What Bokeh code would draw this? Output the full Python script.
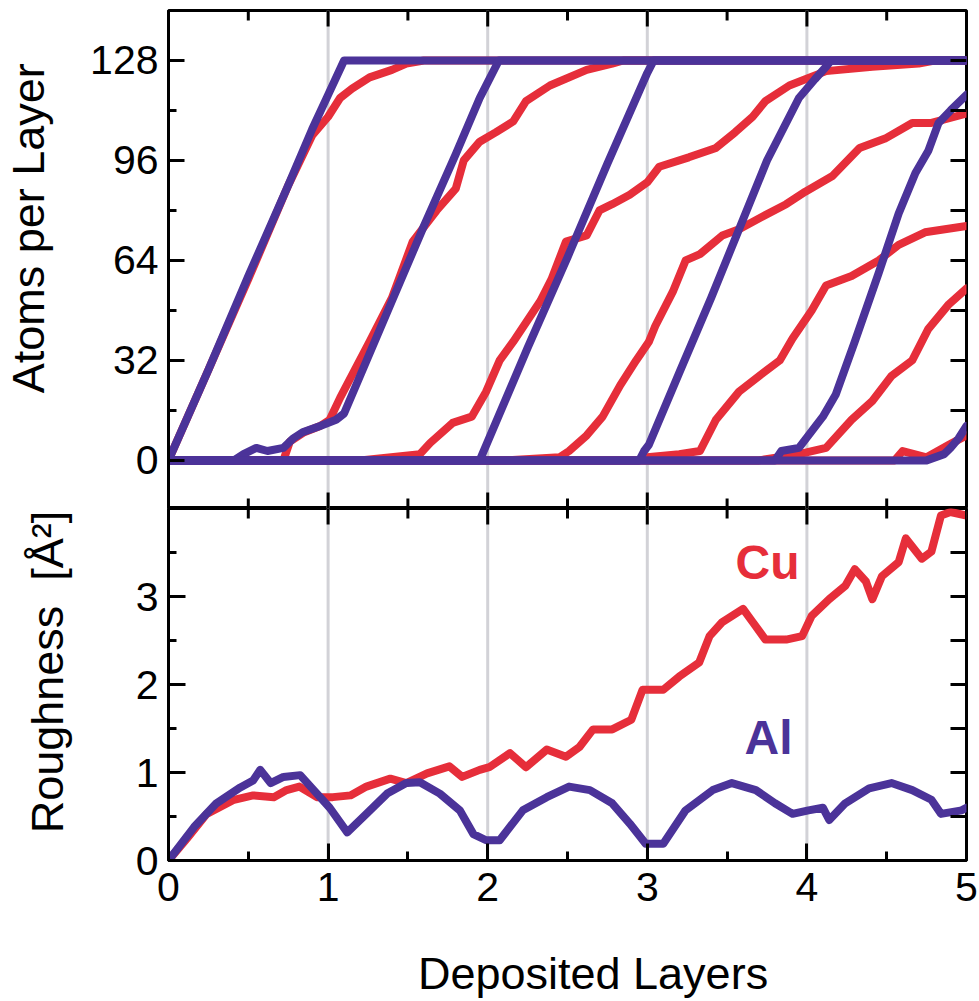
from bokeh.plotting import figure
from bokeh.layouts import column
from bokeh.models import LinearAxis, FixedTicker, Span
from bokeh.core.properties import value
from bokeh.embed import file_html
from bokeh.resources import INLINE

RED = "#e62e3a"
PURPLE = "#4b3399"
GRAY = "#d2d2d7"
FONT = "Liberation Sans"

# ---------------- data: top panel (atoms per layer) ----------------
cu_l1_x = [0, 0.25, 0.5, 0.75, 0.9, 1.0, 1.075, 1.15, 1.26, 1.4, 1.49, 1.6, 5.0]
cu_l1_y = [0, 29, 58, 88, 104, 110, 116, 119, 122.6, 125, 127, 128, 128]
cu_l2_x = [0, 0.72, 0.76, 0.85, 0.95, 1.01, 1.075, 1.26, 1.4, 1.53, 1.68, 1.8, 1.85, 1.95, 2.05, 2.16, 2.24, 2.39, 2.62, 2.78, 2.85, 5.0]
cu_l2_y = [0, 0, 6, 9, 11, 13, 20, 38, 52, 70, 80, 87, 96, 102, 105, 108.5, 115, 120, 125, 127, 128, 128]
cu_l3_x = [0, 1.2, 1.575, 1.64, 1.78, 1.9, 1.99, 2.075, 2.16, 2.33, 2.4, 2.49, 2.62, 2.7, 2.78, 2.89, 3.0, 3.075, 3.26, 3.43, 3.55, 3.66, 3.74, 3.89, 3.99, 4.12, 4.41, 4.7, 4.8, 5.0]
cu_l3_y = [0, 0, 2, 5.6, 12, 14, 22, 32, 38, 51, 58, 70, 72, 80, 82, 85, 89, 94, 97, 100, 105, 110, 115, 120, 122, 124.6, 126, 127, 128, 128]
cu_l4_x = [0, 2.1, 2.45, 2.51, 2.62, 2.72, 2.83, 2.93, 3.01, 3.05, 3.16, 3.24, 3.33, 3.47, 3.575, 3.72, 3.87, 3.99, 4.16, 4.33, 4.49, 4.66, 4.78, 5.0]
cu_l4_y = [0, 0, 1, 3, 8, 14, 24, 32, 38, 43, 54, 64, 66, 72, 74, 78, 82, 86, 91, 100, 103, 108, 108, 111]
cu_l5_x = [0, 2.95, 3.0, 3.2, 3.33, 3.43, 3.575, 3.7, 3.83, 3.91, 4.03, 4.12, 4.28, 4.45, 4.575, 4.74, 5.0]
cu_l5_y = [0, 0, 1, 2, 3, 13, 22, 27, 32, 39, 48, 56, 59, 64, 69, 73, 75]
cu_l6_x = [0, 3.7, 3.95, 4.12, 4.28, 4.41, 4.53, 4.66, 4.76, 4.89, 5.0]
cu_l6_y = [0, 0, 2, 4, 13, 19, 27, 32, 42, 50, 55]
cu_l7_x = [0, 4.55, 4.6, 4.75, 4.89, 5.0]
cu_l7_y = [0, 0, 3, 1, 5, 8]

al_l1_x = [0, 0.25, 0.5, 0.75, 0.9, 1.0, 1.1, 5.0]
al_l1_y = [0, 29, 59, 88, 106, 117, 128, 128]
al_l2_x = [0, 0.41, 0.47, 0.55, 0.62, 0.72, 0.78, 0.84, 0.95, 1.05, 1.1, 1.2, 1.4, 1.6, 1.8, 1.95, 2.0, 2.07, 5.0]
al_l2_y = [0, 0, 2, 4, 3, 4, 7, 9, 11, 13, 15, 27, 51, 75, 98, 116, 121, 128, 128]
al_l3_x = [0, 1.95, 2.0, 2.25, 2.5, 2.75, 3.0, 3.04, 5.0]
al_l3_y = [0, 0, 6, 36, 65, 95, 124, 128, 128]
al_l4_x = [0, 2.95, 2.98, 3.01, 3.2, 3.4, 3.575, 3.75, 3.85, 3.95, 4.05, 4.12, 4.15, 5.0]
al_l4_y = [0, 0, 3, 5, 28, 52, 74, 96, 106, 116, 122, 126, 128, 128]
al_l5_x = [0, 3.8, 3.84, 3.95, 4.1, 4.18, 4.3, 4.45, 4.575, 4.68, 4.76, 4.825, 4.9, 5.0]
al_l5_y = [0, 0, 3, 4, 14, 21, 38, 60, 79, 92, 99, 108, 112, 117]
al_l6_x = [0, 4.75, 4.86, 4.9, 4.95, 5.0]
al_l6_y = [0, 0, 2, 4, 7, 11]

# ---------------- data: bottom panel (roughness) ----------------
cu_r_x = [0, 0.12, 0.24, 0.41, 0.53, 0.66, 0.74, 0.82, 0.93, 1.03, 1.14, 1.24, 1.39, 1.49, 1.62, 1.76, 1.84, 1.95,
          2.01, 2.14, 2.24, 2.37, 2.49, 2.575, 2.66, 2.78, 2.9, 2.97, 3.1, 3.2, 3.325, 3.39, 3.47, 3.6, 3.66, 3.74,
          3.87, 3.97, 4.03, 4.14, 4.24, 4.3, 4.37, 4.41, 4.47, 4.575, 4.62, 4.72, 4.78, 4.84, 4.9, 5.0]
cu_r_y = [0, 0.26, 0.53, 0.69, 0.74, 0.72, 0.8, 0.84, 0.72, 0.72, 0.74, 0.84, 0.93, 0.88, 0.99, 1.07, 0.95, 1.03,
          1.06, 1.22, 1.06, 1.26, 1.18, 1.29, 1.49, 1.49, 1.6, 1.94, 1.94, 2.09, 2.25, 2.55, 2.71, 2.86, 2.71, 2.51,
          2.51, 2.55, 2.78, 2.97, 3.12, 3.31, 3.17, 2.97, 3.23, 3.39, 3.66, 3.43, 3.51, 3.92, 3.96, 3.92]
al_r_x = [0, 0.16, 0.3, 0.45, 0.53, 0.575, 0.64, 0.72, 0.825, 0.91, 1.01, 1.12, 1.24, 1.37, 1.49, 1.575, 1.7, 1.825,
          1.91, 1.99, 2.075, 2.22, 2.37, 2.51, 2.64, 2.78, 2.89, 2.99, 3.1, 3.24, 3.41, 3.53, 3.68, 3.8, 3.91, 4.01,
          4.1, 4.14, 4.24, 4.39, 4.53, 4.66, 4.78, 4.84, 4.97, 5.0]
al_r_y = [0, 0.38, 0.65, 0.83, 0.91, 1.03, 0.88, 0.95, 0.97, 0.8, 0.6, 0.32, 0.53, 0.76, 0.88, 0.89, 0.76, 0.57,
          0.3, 0.23, 0.23, 0.57, 0.72, 0.84, 0.8, 0.65, 0.42, 0.19, 0.19, 0.57, 0.8, 0.88, 0.8, 0.65, 0.53, 0.57,
          0.6, 0.46, 0.65, 0.82, 0.88, 0.8, 0.69, 0.53, 0.57, 0.6]

# ticks / labels
x_major = [0, 1, 2, 3, 4, 5]
x_minor = [0.5, 1.5, 2.5, 3.5, 4.5]
top_y_major = [0, 32, 64, 96, 128]
top_y_minor = [16, 48, 80, 112]
top_y_right = [16, 32, 48, 64, 80, 96, 112, 128]
bot_y_major = [0, 1, 2, 3]
bot_y_minor = [0.5, 1.5, 2.5, 3.5]
bot_y_right = [0.5, 1, 1.5, 2, 2.5, 3, 3.5]
grid_x = [1, 2, 3, 4]

X_RANGE = (0, 5)
TOP_Y_RANGE = (-15.4, 144)
BOT_Y_RANGE = (0, 4)

NB = "\u00a0"
X_LABEL = "Deposited Layers"
TOP_Y_LABEL = NB * 5 + "Atoms per Layer"
BOT_Y_LABEL = NB * 2 + "Roughness" + NB + NB + "[Å²]"

# layout (pixels)
W = 978
LEFT, RIGHT = 168, 12
FRAME_W = W - LEFT - RIGHT
TOP_H, TOP_MT = 508, 10
BOT_FRAME_H, BOT_MB = 352, 66
BOT_H = BOT_FRAME_H + BOT_MB
LAB_H = 1000 - TOP_H - BOT_H


def style_axis(ax, ticks, minor, tick_in, minor_in, standoff):
    ax.ticker = FixedTicker(ticks=ticks, minor_ticks=minor)
    ax.axis_line_color = "black"
    ax.axis_line_width = 3
    ax.major_tick_line_color = "black"
    ax.major_tick_line_width = 3
    ax.minor_tick_line_color = "black"
    ax.minor_tick_line_width = 3
    ax.major_tick_in = tick_in
    ax.major_tick_out = 0
    ax.minor_tick_in = minor_in
    ax.minor_tick_out = 0
    ax.major_label_text_font = FONT
    ax.major_label_text_font_size = "41px"
    ax.major_label_text_color = "black"
    ax.major_label_standoff = standoff
    ax.axis_label_text_font = FONT
    ax.axis_label_text_font_size = "45px"
    ax.axis_label_text_font_style = "normal"
    ax.axis_label_text_color = "black"


def base_fig(height, y_range, mb_top, mb_bottom):
    p = figure(width=W, height=height, x_range=X_RANGE, y_range=y_range,
               output_backend="svg", toolbar_location=None,
               x_axis_location=None, y_axis_location=None,
               min_border_left=LEFT, min_border_right=RIGHT,
               min_border_top=mb_top, min_border_bottom=mb_bottom)
    p.grid.visible = False
    p.outline_line_color = "black"
    p.outline_line_width = 3
    p.background_fill_color = "white"
    p.border_fill_color = "white"
    for gx in grid_x:
        p.add_layout(Span(location=gx, dimension="height", line_color=GRAY,
                          line_width=3, level="underlay"))
    return p


def ticks_on_hedge(p, ticks, y_edge, length_px, y_per_px):
    # inward ticks on a horizontal frame edge (top: negative direction, bottom: positive)
    n = len(ticks)
    p.segment(x0=ticks, y0=[y_edge] * n, x1=ticks, y1=[y_edge + length_px * y_per_px] * n,
              line_color="black", line_width=3)


def ticks_on_vedge(p, ticks, x_edge, length_px, x_per_px):
    n = len(ticks)
    p.segment(x0=[x_edge] * n, y0=ticks, x1=[x_edge + length_px * x_per_px] * n, y1=ticks,
              line_color="black", line_width=3)


LW = 8
x_per_px = (X_RANGE[1] - X_RANGE[0]) / FRAME_W

# ---------------- top panel ----------------
p1 = base_fig(TOP_H, TOP_Y_RANGE, TOP_MT, 0)
top_y_per_px = (TOP_Y_RANGE[1] - TOP_Y_RANGE[0]) / (TOP_H - TOP_MT)

ax = LinearAxis(axis_label=TOP_Y_LABEL)
style_axis(ax, top_y_major, top_y_minor, 16, 8, 10)
ax.axis_label_standoff = 33
p1.add_layout(ax, "left")

cu_layers = [(cu_l1_x, cu_l1_y), (cu_l2_x, cu_l2_y), (cu_l3_x, cu_l3_y), (cu_l4_x, cu_l4_y),
             (cu_l5_x, cu_l5_y), (cu_l6_x, cu_l6_y), (cu_l7_x, cu_l7_y)]
al_layers = [(al_l1_x, al_l1_y), (al_l2_x, al_l2_y), (al_l3_x, al_l3_y), (al_l4_x, al_l4_y),
             (al_l5_x, al_l5_y), (al_l6_x, al_l6_y)]
for xs, ys in cu_layers:
    p1.line(xs, ys, line_color=RED, line_width=LW, line_join="round", line_cap="round")
for xs, ys in al_layers:
    p1.line(xs, ys, line_color=PURPLE, line_width=LW, line_join="round", line_cap="round")

ticks_on_hedge(p1, x_major, TOP_Y_RANGE[1], -16, top_y_per_px)
ticks_on_hedge(p1, x_minor, TOP_Y_RANGE[1], -10, top_y_per_px)
ticks_on_hedge(p1, x_major, TOP_Y_RANGE[0], 16, top_y_per_px)
ticks_on_hedge(p1, x_minor, TOP_Y_RANGE[0], 10, top_y_per_px)
ticks_on_vedge(p1, top_y_right, X_RANGE[1], -16, x_per_px)

# ---------------- bottom panel ----------------
p2 = base_fig(BOT_H, BOT_Y_RANGE, 0, BOT_MB)
bot_y_per_px = (BOT_Y_RANGE[1] - BOT_Y_RANGE[0]) / BOT_FRAME_H

ax = LinearAxis(axis_label=BOT_Y_LABEL)
style_axis(ax, bot_y_major, bot_y_minor, 17, 8, 10)
ax.axis_label_standoff = 60
p2.add_layout(ax, "left")

ax = LinearAxis()
style_axis(ax, x_major, x_minor, 17, 9, 12)
p2.add_layout(ax, "below")

p2.line(cu_r_x, cu_r_y, line_color=RED, line_width=LW, line_join="round", line_cap="round")
p2.line(al_r_x, al_r_y, line_color=PURPLE, line_width=LW, line_join="round", line_cap="round")

ticks_on_hedge(p2, x_major, BOT_Y_RANGE[1], -16, bot_y_per_px)
ticks_on_hedge(p2, x_minor, BOT_Y_RANGE[1], -10, bot_y_per_px)
ticks_on_vedge(p2, bot_y_right, X_RANGE[1], -16, x_per_px)

p2.text(x=[3.753], y=[3.39], text=["Cu"], text_color=RED, text_font=value(FONT),
        text_font_style="bold", text_font_size="48px", text_align="center", text_baseline="alphabetic")
p2.text(x=[3.76], y=[1.40], text=["Al"], text_color=PURPLE, text_font=value(FONT),
        text_font_style="bold", text_font_size="48px", text_align="center", text_baseline="alphabetic")

# ---------------- x-axis title strip ----------------
p3 = figure(width=W, height=LAB_H, x_range=X_RANGE, y_range=(0, 1),
            output_backend="svg", toolbar_location=None,
            x_axis_location=None, y_axis_location=None,
            min_border_left=LEFT, min_border_right=RIGHT, min_border_top=0, min_border_bottom=0)
p3.grid.visible = False
p3.outline_line_color = None
p3.text(x=[2.66], y=[0.37], text=[X_LABEL], text_color="black", text_font=value(FONT),
        text_font_size="45px", text_align="center", text_baseline="alphabetic")

layout = column(p1, p2, p3, spacing=0)
open("out.html", "w").write(file_html(layout, INLINE))
